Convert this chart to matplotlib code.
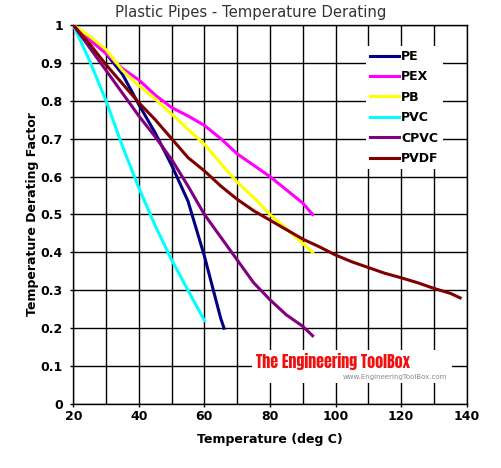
import matplotlib
matplotlib.use('Agg')
import matplotlib.pyplot as plt
from matplotlib.patches import Rectangle
from matplotlib.ticker import MultipleLocator

# Temperature derating of plastic pipe materials
t_pe = [20, 25, 30, 35, 40, 45, 50, 55, 60, 65, 66]
f_pe = [1.0, 0.965, 0.925, 0.87, 0.79, 0.715, 0.63, 0.535, 0.39, 0.225, 0.20]

t_pex = [20, 25, 30, 35, 40, 45, 50, 55, 60, 65, 70, 75, 80, 85, 90, 93]
f_pex = [1.0, 0.96, 0.925, 0.885, 0.855, 0.815, 0.782, 0.76, 0.735, 0.70,
         0.66, 0.63, 0.60, 0.565, 0.53, 0.50]

t_pb = [20, 25, 30, 35, 40, 45, 50, 55, 60, 65, 70, 75, 80, 85, 90, 93]
f_pb = [1.0, 0.97, 0.935, 0.88, 0.84, 0.805, 0.765, 0.725, 0.685, 0.635,
        0.585, 0.545, 0.50, 0.463, 0.424, 0.40]

t_pvc = [20, 25, 30, 35, 40, 45, 50, 55, 60]
f_pvc = [1.0, 0.905, 0.80, 0.68, 0.57, 0.47, 0.38, 0.30, 0.22]

t_cpvc = [20, 25, 30, 35, 40, 45, 50, 55, 60, 65, 70, 75, 80, 85, 90, 93]
f_cpvc = [1.0, 0.94, 0.88, 0.82, 0.76, 0.705, 0.645, 0.575, 0.50, 0.44,
          0.38, 0.32, 0.275, 0.235, 0.205, 0.18]

t_pvdf = [20, 25, 30, 35, 40, 45, 50, 55, 60, 65, 70, 75, 80, 85, 90, 95,
          100, 105, 110, 115, 120, 125, 130, 135, 138]
f_pvdf = [1.0, 0.95, 0.895, 0.845, 0.795, 0.75, 0.70, 0.65, 0.615, 0.575,
          0.54, 0.51, 0.485, 0.46, 0.435, 0.415, 0.393, 0.375, 0.36, 0.345,
          0.333, 0.32, 0.305, 0.292, 0.28]

series = [
    ('PE', t_pe, f_pe, '#000080'),
    ('PEX', t_pex, f_pex, '#FF00FF'),
    ('PB', t_pb, f_pb, '#FFFF00'),
    ('PVC', t_pvc, f_pvc, '#00FFFF'),
    ('CPVC', t_cpvc, f_cpvc, '#800080'),
    ('PVDF', t_pvdf, f_pvdf, '#800000'),
]

fig = plt.figure(figsize=(5.01, 4.68), dpi=100)
ax = fig.add_axes([0.1463, 0.1368, 0.7852, 0.8098])

for name, t, f, c in series:
    ax.plot(t, f, '-', color=c, lw=2.2, label=name, zorder=3)

ax.set_xlim(20, 140)
ax.set_ylim(0, 1)
ax.xaxis.set_major_locator(MultipleLocator(20))
ax.xaxis.set_minor_locator(MultipleLocator(10))
ax.set_yticks([i / 10 for i in range(11)])
ax.set_yticklabels(['0', '0.1', '0.2', '0.3', '0.4', '0.5', '0.6', '0.7',
                    '0.8', '0.9', '1'])
ax.grid(which='both', color='black', lw=1.0)
ax.set_axisbelow(True)
ax.tick_params(which='major', length=2.5, width=1, color='black')
ax.tick_params(which='minor', length=0)
ax.tick_params(axis='y', pad=5)
ax.tick_params(axis='x', pad=2)
for lab in ax.get_xticklabels() + ax.get_yticklabels():
    lab.set_fontweight('bold')
    lab.set_fontsize(9)
for s in ax.spines.values():
    s.set_color('black')
    s.set_linewidth(1.0)

ax.set_xlabel('Temperature (deg C)', fontsize=9, fontweight='bold', labelpad=7)
ax.set_ylabel('Temperature Derating Factor', fontsize=9, fontweight='bold', labelpad=1)
fig.text(0.5, 0.973, 'Plastic Pipes - Temperature Derating', ha='center',
         va='center', fontsize=10.7, color='#333333')

leg = ax.legend(loc='upper left', bbox_to_anchor=(0.728, 0.962), frameon=True,
                fancybox=False, edgecolor='none', facecolor='white', framealpha=1,
                handlelength=2.3, handletextpad=0.15, labelspacing=0.59,
                borderpad=0.35, prop={'weight': 'bold', 'size': 9})
leg.set_zorder(5)

# watermark
ax.add_patch(Rectangle((0.454, 0.055), 0.509, 0.088, transform=ax.transAxes,
                       facecolor='white', edgecolor='none', zorder=4))
ax.text(0.66, 0.113, 'The Engineering ToolBox', transform=ax.transAxes,
        ha='center', va='center', fontsize=11.5,
        family=['Anton', 'DejaVu Sans'], color='#EE1111', zorder=4.5)
ax.text(0.95, 0.07, 'www.EngineeringToolBox.com', transform=ax.transAxes,
        ha='right', va='center', fontsize=5, color='#888888', zorder=4.5)

fig.savefig('out.png', dpi=100)
